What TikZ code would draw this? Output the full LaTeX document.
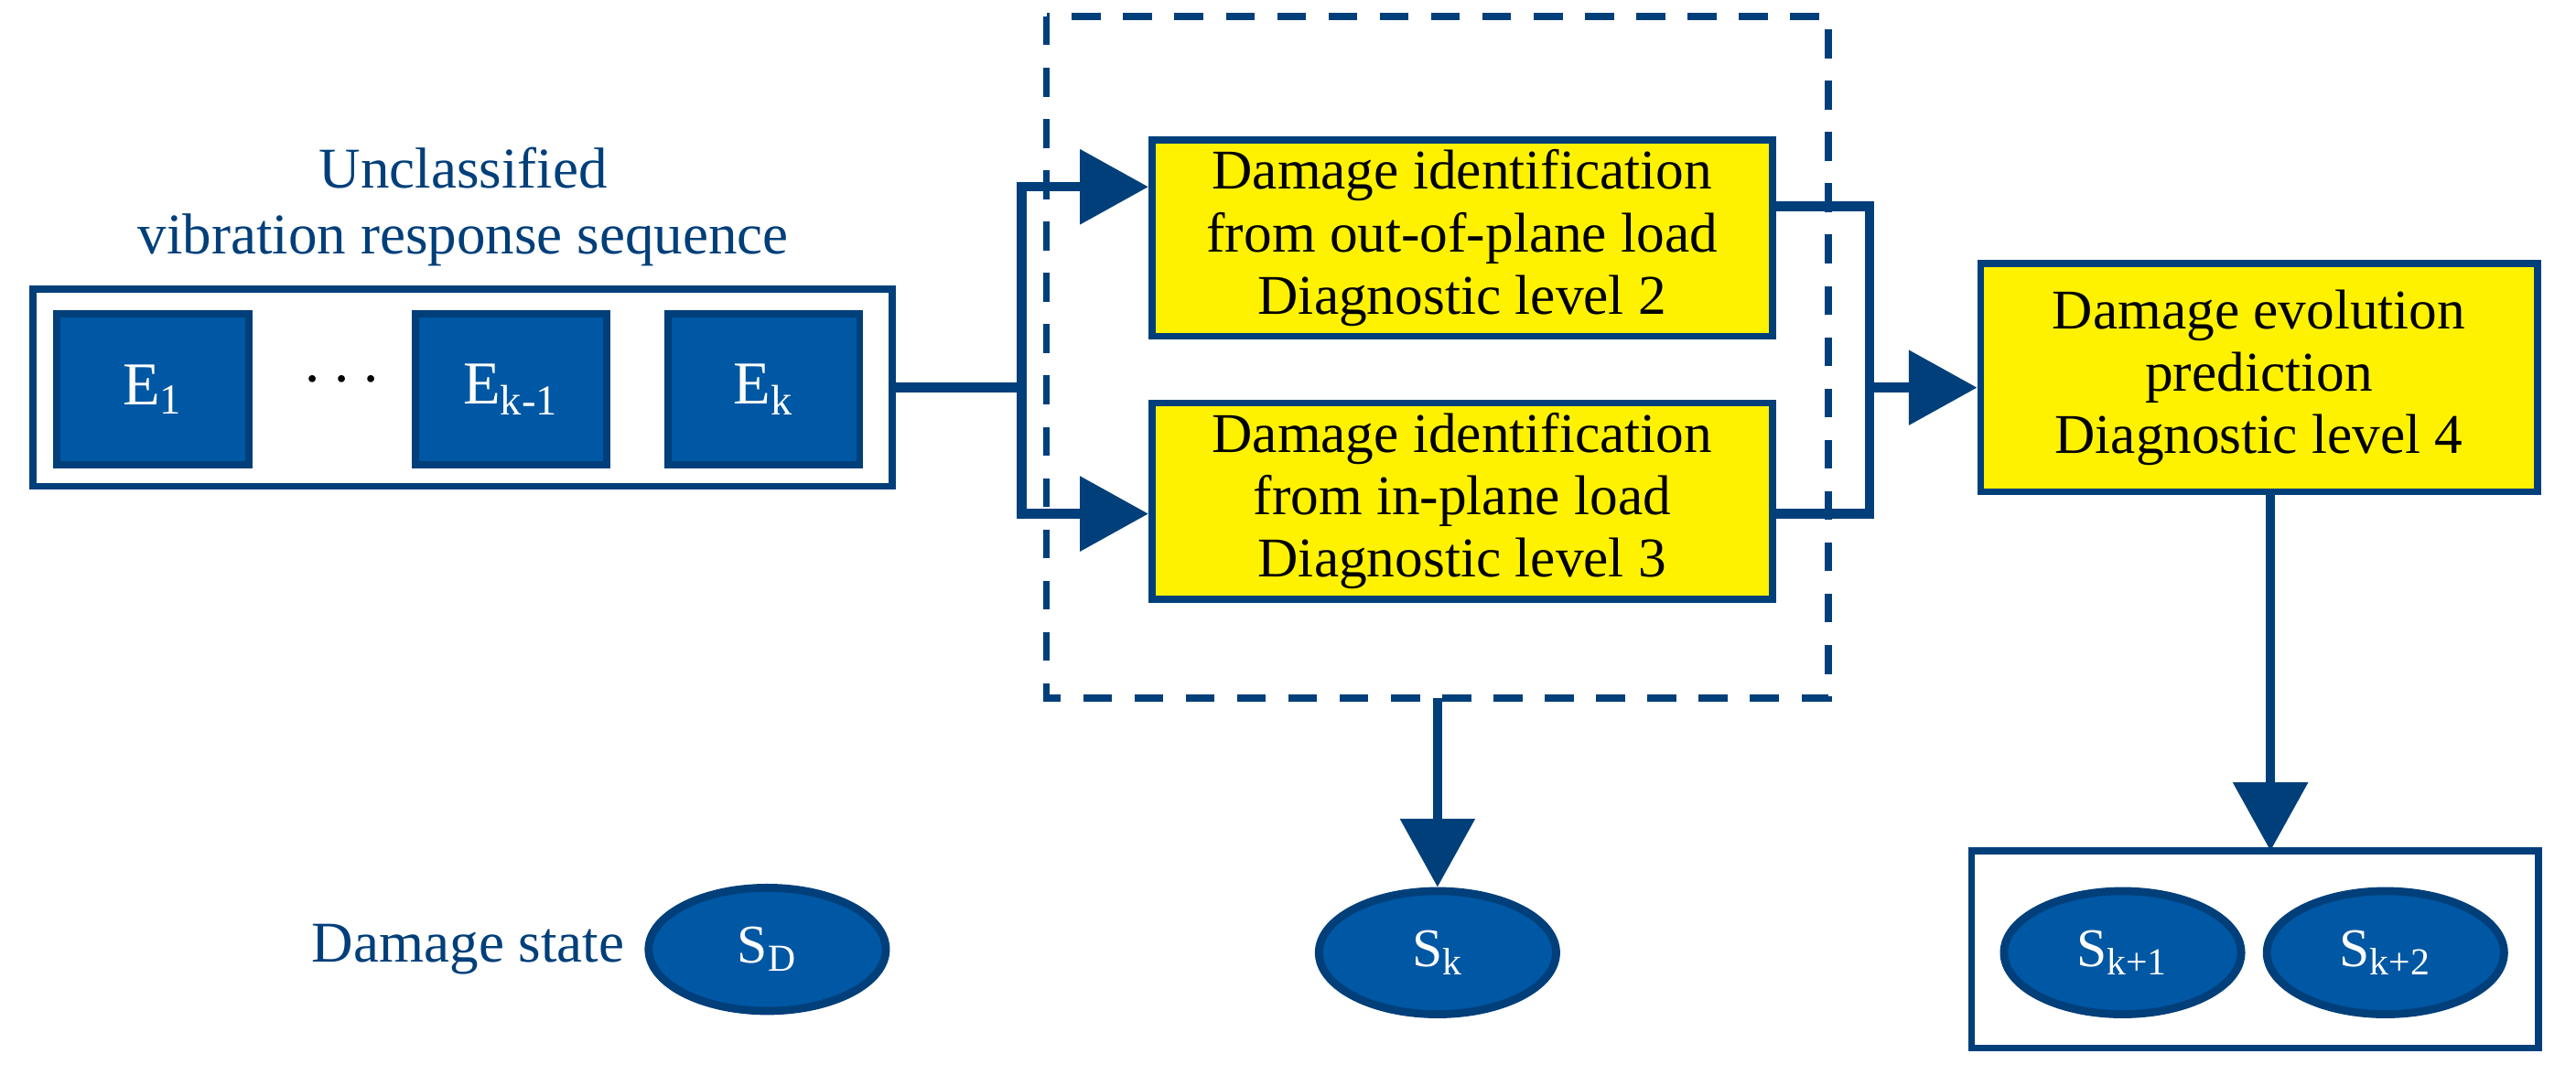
\documentclass[tikz,border=0pt]{standalone}
\usepackage{fontspec}
\setmainfont{Liberation Serif}
\usetikzlibrary{positioning,arrows.meta,shapes.geometric}
\definecolor{navy}{HTML}{003F7A}
\definecolor{blu}{HTML}{0057A3}
\definecolor{yel}{HTML}{FFF200}
\tikzset{
  ebox/.style={draw=navy, line width=2.2pt, fill=blu, text=white, minimum width=2.1cm, minimum height=1.65cm, font=\fontsize{19}{21}\selectfont},
  ybox/.style={draw=navy, line width=2.2pt, fill=yel, align=center, inner sep=1pt, font=\fontsize{17.5}{19.5}\selectfont},
  state/.style={ellipse, draw=navy, line width=2.5pt, fill=blu, text=white, minimum width=2.6cm, minimum height=1.35cm, font=\fontsize{17}{19}\selectfont},
  flow/.style={draw=navy, line width=3pt},
  arr/.style={flow, -{Triangle[width=0.8cm, length=0.75cm]}},
}
\begin{document}
\begin{tikzpicture}[x=0.018cm, y=-0.018cm]
\useasboundingbox (0,0) rectangle (1568,661);
% left group
\node[navy, align=center, font=\fontsize{18}{20.5}\selectfont] (title) at (282,126) {Unclassified\\vibration response sequence};
\draw[navy, line width=2.2pt] (20,176) rectangle (543,296);
\coordinate (seqout) at (543,236);
\node[ebox] (e1) at (93,237) {E\textsubscript{1}};
\node[font=\fontsize{22}{22}\selectfont] (dots) at (208,232) {$\cdots$};
\node[ebox] (ek1) at (311,237) {E\textsubscript{k-1}};
\node[ebox] (ek) at (465,237) {E\textsubscript{k}};
% level 2 and 3
\draw[navy, line width=2.2pt, dash pattern=on 9pt off 7pt] (637,10) rectangle (1113,425);
\node[ybox, minimum width=6.8cm, minimum height=2.15cm] (lvl2) at (890,145) {Damage identification\\from out-of-plane load\\Diagnostic level 2};
\node[ybox, minimum width=6.8cm, minimum height=2.15cm] (lvl3) at (890,305) {Damage identification\\from in-plane load\\Diagnostic level 3};
\coordinate (split) at (622,236);
\coordinate (join) at (1138,236);
\coordinate (boxbot) at (875,425);
\draw[flow] (seqout) -- (split);
\draw[arr] (split) |- ([yshift=16pt]lvl2.west);
\draw[arr] (split) |- ([yshift=-4pt]lvl3.west);
\draw[flow] ([yshift=10pt]lvl2.east) -| (join);
\draw[flow] ([yshift=-4pt]lvl3.east) -| (join);
% level 4
\node[ybox, minimum width=6.1cm, minimum height=2.5cm] (lvl4) at (1375,230) {Damage evolution\\prediction\\Diagnostic level 4};
\draw[arr] (join) -- (lvl4.west |- join);
% states
\node[navy, font=\fontsize{18}{20}\selectfont, anchor=east] (dslabel) at (387,578) {Damage state};
\node[state] (sd) at (467,578) {S\textsubscript{D}};
\node[state] (sk) at (875,580) {S\textsubscript{k}};
\draw[arr] (boxbot) -- (sk.north);
\draw[navy, line width=2.2pt] (1200,518) rectangle (1545,638);
\coordinate (predin) at (1382,518);
\node[state] (sk1) at (1292,580) {S\textsubscript{k+1}};
\node[state] (sk2) at (1452,580) {S\textsubscript{k+2}};
\draw[arr] (lvl4.south -| predin) -- (predin);
\end{tikzpicture}
\end{document}
